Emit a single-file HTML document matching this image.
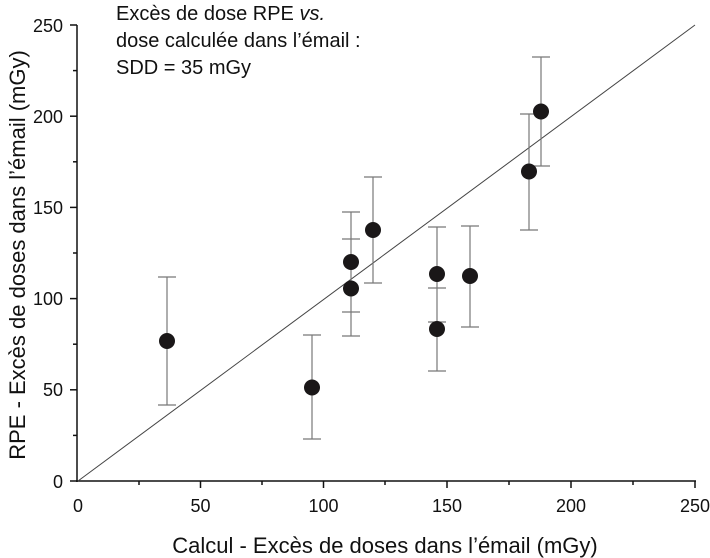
<!DOCTYPE html>
<html><head><meta charset="utf-8"><style>
html,body{margin:0;padding:0;background:#fff;}
svg{display:block;font-family:"Liberation Sans",Arial,sans-serif;}
</style></head><body>
<svg width="710" height="558" viewBox="0 0 710 558" xmlns="http://www.w3.org/2000/svg">
<g stroke="#111" stroke-width="1.5" fill="none">
<line x1="77" y1="25" x2="77" y2="482"/>
<line x1="76" y1="481" x2="696" y2="481"/>
<line x1="70" y1="481" x2="77" y2="481"/><line x1="73" y1="435.4" x2="77" y2="435.4"/>
<line x1="70" y1="389.8" x2="77" y2="389.8"/><line x1="73" y1="344.2" x2="77" y2="344.2"/>
<line x1="70" y1="298.6" x2="77" y2="298.6"/><line x1="73" y1="253" x2="77" y2="253"/>
<line x1="70" y1="207.4" x2="77" y2="207.4"/><line x1="73" y1="161.8" x2="77" y2="161.8"/>
<line x1="70" y1="116.2" x2="77" y2="116.2"/><line x1="73" y1="70.6" x2="77" y2="70.6"/>
<line x1="70" y1="25" x2="77" y2="25"/>
<line x1="139" y1="481" x2="139" y2="485"/><line x1="200.5" y1="481" x2="200.5" y2="488"/>
<line x1="262" y1="481" x2="262" y2="485"/><line x1="323.5" y1="481" x2="323.5" y2="488"/>
<line x1="385" y1="481" x2="385" y2="485"/><line x1="447" y1="481" x2="447" y2="488"/>
<line x1="509" y1="481" x2="509" y2="485"/><line x1="571" y1="481" x2="571" y2="488"/>
<line x1="633" y1="481" x2="633" y2="485"/><line x1="695" y1="481" x2="695" y2="488"/>
</g>
<line x1="78" y1="481" x2="695" y2="25" stroke="#444" stroke-width="1"/>
<g stroke="#777" stroke-width="1.2">
<line x1="167" y1="277" x2="167" y2="405"/><line x1="158" y1="277" x2="176" y2="277"/><line x1="158" y1="405" x2="176" y2="405"/>
<line x1="312" y1="335" x2="312" y2="439"/><line x1="303" y1="335" x2="321" y2="335"/><line x1="303" y1="439" x2="321" y2="439"/>
<line x1="351" y1="212" x2="351" y2="336"/><line x1="342" y1="212" x2="360" y2="212"/><line x1="342" y1="239" x2="360" y2="239"/><line x1="342" y1="312" x2="360" y2="312"/><line x1="342" y1="336" x2="360" y2="336"/>
<line x1="373" y1="177" x2="373" y2="283"/><line x1="364" y1="177" x2="382" y2="177"/><line x1="364" y1="283" x2="382" y2="283"/>
<line x1="437" y1="227" x2="437" y2="371"/><line x1="428" y1="227" x2="446" y2="227"/><line x1="428" y1="288" x2="446" y2="288"/><line x1="428" y1="322" x2="446" y2="322"/><line x1="428" y1="371" x2="446" y2="371"/>
<line x1="470" y1="226" x2="470" y2="327"/><line x1="461" y1="226" x2="479" y2="226"/><line x1="461" y1="327" x2="479" y2="327"/>
<line x1="529" y1="114" x2="529" y2="230"/><line x1="520" y1="114" x2="538" y2="114"/><line x1="520" y1="230" x2="538" y2="230"/>
<line x1="541" y1="57" x2="541" y2="166"/><line x1="532" y1="57" x2="550" y2="57"/><line x1="532" y1="166" x2="550" y2="166"/>
</g>
<g fill="#1a1718">
<circle cx="167" cy="341" r="8"/><circle cx="312" cy="387.5" r="8"/>
<circle cx="351" cy="262" r="8"/><circle cx="351" cy="288.5" r="8"/>
<circle cx="373" cy="230" r="8"/><circle cx="437" cy="274" r="8"/>
<circle cx="437" cy="329" r="8"/><circle cx="470" cy="276" r="8"/>
<circle cx="529" cy="171.5" r="8"/><circle cx="541" cy="111.5" r="8"/>
</g>
<g font-size="18" fill="#111" text-anchor="end">
<text x="63" y="488">0</text><text x="63" y="396">50</text><text x="63" y="305">100</text>
<text x="63" y="214">150</text><text x="63" y="123">200</text><text x="63" y="32">250</text>
</g>
<g font-size="18" fill="#111" text-anchor="middle">
<text x="78" y="512">0</text><text x="200.5" y="512">50</text><text x="323.5" y="512">100</text>
<text x="447" y="512">150</text><text x="571" y="512">200</text><text x="695" y="512">250</text>
</g>
<text x="385" y="553" font-size="22" fill="#111" text-anchor="middle">Calcul - Excès de doses dans l’émail (mGy)</text>
<text transform="translate(25,255) rotate(-90)" font-size="22" fill="#111" text-anchor="middle">RPE - Excès de doses dans l’émail (mGy)</text>
<g font-size="20" fill="#111">
<text x="116" y="20">Excès de dose RPE <tspan font-style="italic">vs.</tspan></text>
<text x="116" y="47">dose calculée dans l’émail :</text>
<text x="116" y="74">SDD = 35 mGy</text>
</g>
</svg>
</body></html>
